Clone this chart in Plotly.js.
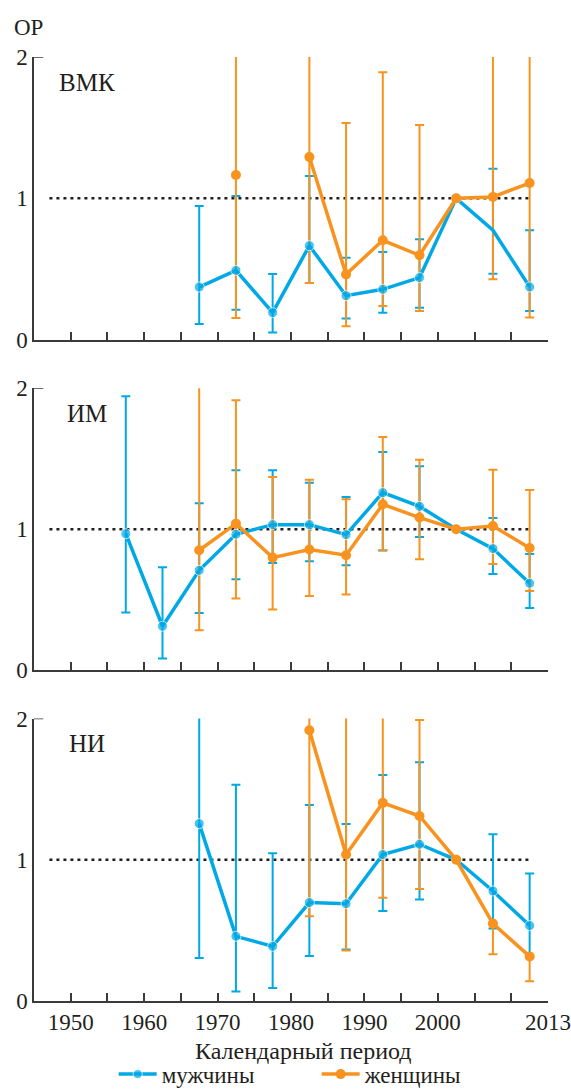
<!DOCTYPE html>
<html>
<head>
<meta charset="utf-8">
<script src="https://cdn.plot.ly/plotly-3.0.1.min.js"></script>
<style>
html,body{margin:0;padding:0;background:#fff;font-family:'Liberation Serif',serif;}
</style>
</head>
<body>
<div id="chart" style="width:571px;height:1090px;"></div>
<script>
// Calendar periods (mid-points of 5-year periods)
const periods = [1957.5, 1962.5, 1967.5, 1972.5, 1977.5, 1982.5, 1987.5, 1992.5, 1997.5, 2002.5, 2007.5, 2012.5];
const xTickVals = [1950, 1955, 1960, 1965, 1970, 1975, 1980, 1985, 1990, 1995, 2000, 2005, 2010, 2015];
const xTickText = ['1950', '', '1960', '', '1970', '', '1980', '', '1990', '', '2000', '', '', '2013'];
const yTickVals = [0, 1, 2];
const panelNames = ['ВМК', 'ИМ', 'НИ'];
const seriesNames = ['мужчины', 'женщины'];

// ВМК
const vmkMen     = [null, null, 0.372, 0.490, 0.191, 0.665, 0.311, 0.356, 0.439, 1.0, 0.774, 0.373];
const vmkMenLo   = [null, null, 0.110, 0.212, 0.050, 0.400, 0.149, 0.191, 0.226, null, 0.467, 0.203];
const vmkMenHi   = [null, null, 0.946, 1.016, 0.464, 1.158, 0.580, 0.620, 0.710, null, 1.210, 0.774];
const vmkWomen   = [null, null, null, 1.165, null, 1.292, 0.462, 0.703, 0.597, 1.0, 1.010, 1.108];
const vmkWomenLo = [null, null, null, 0.153, null, 0.401, 0.094, 0.238, 0.202, null, 0.427, 0.156];
const vmkWomenHi = [null, null, null, 2.5, null, 2.5, 1.533, 1.892, 1.519, null, 2.5, 2.5];

// ИМ
const imMen      = [0.969, 0.312, 0.709, 0.965, 1.033, 1.033, 0.962, 1.260, 1.163, 1.0, 0.863, 0.617];
const imMenLo    = [0.409, 0.083, 0.406, 0.645, 0.761, 0.773, 0.745, 0.850, 0.945, null, 0.683, 0.442];
const imMenHi    = [1.943, 0.730, 1.184, 1.418, 1.418, 1.331, 1.229, 1.548, 1.447, null, 1.080, 0.825];
const imWomen    = [null, null, 0.851, 1.040, 0.799, 0.856, 0.816, 1.177, 1.083, 1.0, 1.023, 0.867];
const imWomenLo  = [null, null, 0.284, 0.508, 0.430, 0.527, 0.537, 0.851, 0.787, null, 0.754, 0.562];
const imWomenHi  = [null, null, 2.5, 1.915, 1.371, 1.352, 1.213, 1.655, 1.494, null, 1.423, 1.279];

// НИ
const niMen      = [null, null, 1.256, 0.458, 0.387, 0.697, 0.689, 1.037, 1.110, 1.0, 0.779, 0.534];
const niMenLo    = [null, null, 0.305, 0.068, 0.092, 0.319, 0.364, 0.638, 0.718, null, 0.513, 0.310];
const niMenHi    = [null, null, 2.5, 1.532, 1.046, 1.388, 1.254, 1.601, 1.691, null, 1.181, 0.902];
const niWomen    = [null, null, null, null, null, 1.917, 1.037, 1.403, 1.310, 1.0, 0.548, 0.316];
const niWomenLo  = [null, null, null, null, null, 0.600, 0.357, 0.732, 0.793, null, 0.331, 0.139];
const niWomenHi  = [null, null, null, null, null, 2.5, 2.5, 2.5, 1.990, null, null, null];

const BLUE = '#00A9E6';
const ORANGE = '#F7931E';
const FONT = 'Liberation Serif';
const TXT = '#231F20';

const panels = [
  {men: vmkMen, menLo: vmkMenLo, menHi: vmkMenHi, wom: vmkWomen, womLo: vmkWomenLo, womHi: vmkWomenHi, hideMenMarkerAt: 2007.5},
  {men: imMen, menLo: imMenLo, menHi: imMenHi, wom: imWomen, womLo: imWomenLo, womHi: imWomenHi},
  {men: niMen, menLo: niMenLo, menHi: niMenHi, wom: niWomen, womLo: niWomenLo, womHi: niWomenHi}
];

function errPlus(v, hi) { return v.map((d, i) => (d == null || hi[i] == null) ? 0 : hi[i] - d); }
function errMinus(v, lo) { return v.map((d, i) => (d == null || lo[i] == null) ? 0 : d - lo[i]); }

const traces = [];
panels.forEach((p, k) => {
  const xa = k === 0 ? 'x' : 'x' + (k + 1);
  const ya = k === 0 ? 'y' : 'y' + (k + 1);
  [[p.men, p.menLo, p.menHi, BLUE], [p.wom, p.womLo, p.womHi, ORANGE]].forEach(s => {
    traces.push({
      x: periods, y: s[0], xaxis: xa, yaxis: ya, type: 'scatter', mode: 'markers',
      marker: {size: 1, opacity: 0, color: s[3]}, showlegend: false, hoverinfo: 'skip',
      error_y: {type: 'data', symmetric: false, array: errPlus(s[0], s[2]), arrayminus: errMinus(s[0], s[1]),
                color: s[3], thickness: 2, width: 4.5}
    });
  });
  const menSizes = periods.map(x => (p.hideMenMarkerAt === x ? 0 : 10));
  traces.push({
    x: periods, y: p.men, xaxis: xa, yaxis: ya, type: 'scatter', mode: 'lines+markers',
    name: seriesNames[0], legendgroup: 'm', showlegend: k === 0,
    line: {color: BLUE, width: 3.5}, marker: {color: BLUE, size: menSizes}
  });
  traces.push({
    x: periods, y: p.wom, xaxis: xa, yaxis: ya, type: 'scatter', mode: 'lines+markers',
    name: seriesNames[1], legendgroup: 'w', showlegend: k === 0,
    line: {color: ORANGE, width: 3.5}, marker: {color: ORANGE, size: 10}
  });
});

const domains = [[0.7006, 1], [0.3504, 0.649], [0, 0.2992]];
const layout = {
  width: 571, height: 1090,
  margin: {l: 33.6, r: 23.4, t: 56.7, b: 89.3, autoexpand: false},
  paper_bgcolor: '#fff', plot_bgcolor: '#fff',
  font: {family: FONT, color: TXT},
  showlegend: true,
  legend: {orientation: 'h', x: 0.155, xanchor: 'left', y: -0.0775, yanchor: 'middle',
           entrywidth: 150, entrywidthmode: 'pixels', itemwidth: 38,
           font: {family: FONT, size: 23, color: TXT}, bgcolor: 'rgba(0,0,0,0)'},
  shapes: [], annotations: []
};
domains.forEach((d, k) => {
  const xn = k === 0 ? 'xaxis' : 'xaxis' + (k + 1);
  const yn = k === 0 ? 'yaxis' : 'yaxis' + (k + 1);
  const ya = k === 0 ? 'y' : 'y' + (k + 1);
  const xa = k === 0 ? 'x' : 'x' + (k + 1);
  layout[xn] = {
    domain: [0, 1], anchor: ya, range: [1945, 2015], showgrid: false, zeroline: false,
    showline: true, linecolor: '#3a3a3a', linewidth: 1.5,
    ticks: 'inside', ticklen: 8, tickwidth: 1.5, tickcolor: '#3a3a3a',
    tickmode: 'array', tickvals: xTickVals, ticktext: xTickText, ticklabeloverflow: 'allow',
    showticklabels: k === 2, tickfont: {family: FONT, size: 23, color: TXT}
  };
  layout[yn] = {
    domain: d, anchor: xa, range: [0, 2], showgrid: false, zeroline: false,
    showline: true, linecolor: '#3a3a3a', linewidth: 1.5, ticks: '',
    tickmode: 'array', tickvals: yTickVals, tickfont: {family: FONT, size: 23, color: TXT}
  };
  layout.shapes.push({type: 'line', xref: xa, yref: ya, x0: 1947.1, x1: 2012.5, y0: 1, y1: 1,
                      layer: 'below', line: {color: TXT, width: 2.5, dash: '3px,4px'}});
  layout.shapes.push({type: 'line', xref: xa + ' domain', yref: ya, x0: 0, x1: 0.018, y0: 2, y1: 2,
                      line: {color: '#3a3a3a', width: 1.5}});
  layout.annotations.push({text: panelNames[k], xref: xa, yref: ya, x: 1952.2, y: 1.82,
                           xanchor: 'center', yanchor: 'middle', showarrow: false,
                           font: {family: FONT, size: 25, color: TXT}});
});
layout.annotations.push({text: 'ОР', xref: 'paper', yref: 'paper', x: -0.011, y: 1.031,
                         xanchor: 'center', yanchor: 'middle', showarrow: false,
                         font: {family: FONT, size: 23, color: TXT}});
layout.annotations.push({text: 'Календарный период', xref: 'paper', yref: 'paper', x: 0.524, y: -0.0533,
                         xanchor: 'center', yanchor: 'middle', showarrow: false,
                         font: {family: FONT, size: 24, color: TXT}});

Plotly.newPlot('chart', traces, layout, {displayModeBar: false});
</script>
</body>
</html>
